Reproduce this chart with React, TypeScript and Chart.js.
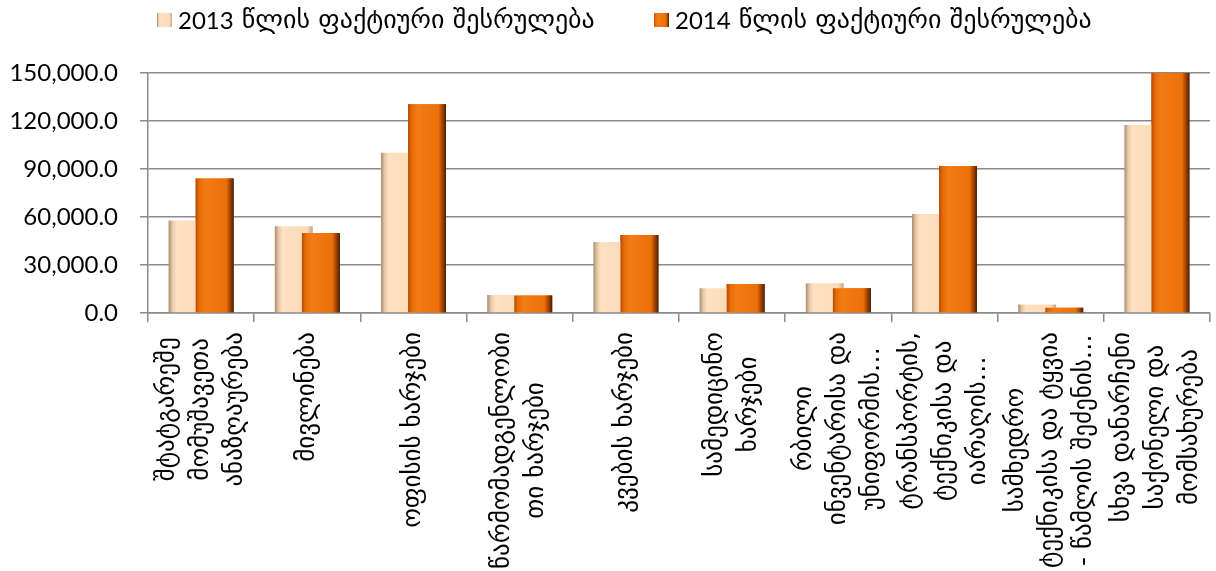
import React, { useEffect, useRef } from "react";
import { Chart, registerables } from "chart.js";

Chart.register(...registerables);

const CATEGORY_LABELS: string[][] = [
  ["შტატგარეშე", "მომუშავეთა", "ანაზღაურება"],
  ["მივლინება"],
  ["ოფისის ხარჯები"],
  ["წარმომადგენლობი", "თი ხარჯები"],
  ["კვების ხარჯები"],
  ["სამედიცინო", "ხარჯები"],
  ["რბილი", "ინვენტარისა და", "უნიფორმის…"],
  ["ტრანსპორტის,", "ტექნიკისა და", "იარაღის…"],
  ["სამხედრო", "ტექნიკისა და ტყვია", "- წამლის შეძენის…"],
  ["სხვა დანარჩენი", "საქონელი და", "მომსახურება"],
];

const SERIES_YEARS = ["2013", "2014"];
const SERIES_SUFFIX = "წლის ფაქტიური შესრულება";

const VALUES_2013: number[] = [57800, 54200, 100200, 11200, 44300, 15500, 18600, 61800, 5300, 117500];
const VALUES_2014: number[] = [84000, 50000, 130500, 11000, 48800, 18200, 15500, 91900, 3300, 150000];

const Y_MIN = 0;
const Y_MAX = 150000;
const Y_STEP = 30000;

const CAT_PCT = 0.51;
const BAR_PCT = 1.4;

const LATIN_FONT = "Lato, 'DejaVu Sans', sans-serif";
const GEO_FONT = "'DejaVu Sans', sans-serif";

const LIGHT_STOPS: [number, string][] = [
  [0, "#a88c70"],
  [0.1, "#e8c8a8"],
  [0.2, "#fde1c3"],
  [0.85, "#fcdab6"],
  [1, "#c4a484"],
];
const ORANGE_STOPS: [number, string][] = [
  [0, "#b44c00"],
  [0.1, "#e86c08"],
  [0.25, "#f47c14"],
  [0.8, "#ec700a"],
  [0.9, "#a84400"],
  [1, "#4a2000"],
];

function makeGradientColor(stops: [number, string][]) {
  return (ctx: any) => {
    const chart = ctx.chart;
    const xs = chart.scales && chart.scales.x;
    if (!xs || ctx.type !== "data" || xs.right === undefined) return stops[2][1];
    const n = CATEGORY_LABELS.length;
    const pixel = xs.getPixelForValue(ctx.dataIndex);
    const catW = (xs.right - xs.left) / n;
    const range = catW * CAT_PCT;
    const size = range / 2;
    const center = pixel - range / 2 + size * ctx.datasetIndex + size / 2;
    const w = size * BAR_PCT;
    const g = chart.ctx.createLinearGradient(center - w / 2, 0, center + w / 2, 0);
    stops.forEach(([o, c]) => g.addColorStop(o, c));
    return g;
  };
}

const customPlugin = {
  id: "customDraw",
  afterDatasetsDraw(chart: any) {
    // draw 2014 bars on top of 2013 bars where they overlap
    const meta = chart.getDatasetMeta(1);
    const ctx = chart.ctx;
    ctx.save();
    meta.data.forEach((el: any) => el.draw(ctx));
    ctx.restore();
  },
  afterDraw(chart: any) {
    const ctx = chart.ctx;
    const xs = chart.scales.x;
    // x labels
    ctx.save();
    ctx.fillStyle = "#000";
    ctx.font = `25px ${GEO_FONT}`;
    ctx.textBaseline = "middle";
    ctx.textAlign = "center";
    const lineH = 34;
    const top = xs.top + 19;
    CATEGORY_LABELS.forEach((lines, i) => {
      const cx = xs.getPixelForValue(i);
      const maxW = Math.max(...lines.map((l) => ctx.measureText(l).width));
      const cy = top + maxW / 2;
      lines.forEach((line, j) => {
        const lx = cx + (j - (lines.length - 1) / 2) * lineH;
        ctx.save();
        ctx.translate(lx, cy);
        ctx.rotate(-Math.PI / 2);
        ctx.fillText(line, 0, 0);
        ctx.restore();
      });
    });
    ctx.restore();

    // legend
    ctx.save();
    ctx.textBaseline = "middle";
    ctx.textAlign = "left";
    const items: [string, [number, string][], number][] = [
      [SERIES_YEARS[0], LIGHT_STOPS, 157],
      [SERIES_YEARS[1], ORANGE_STOPS, 654],
    ];
    items.forEach(([year, stops, x]) => {
      const g = ctx.createLinearGradient(x, 0, x + 15, 0);
      stops.forEach(([o, c]) => g.addColorStop(o, c));
      ctx.fillStyle = g;
      ctx.fillRect(x, 13, 15, 14);
      ctx.fillStyle = "#000";
      ctx.font = `24px ${LATIN_FONT}`;
      const yearText = year + " ";
      ctx.fillText(yearText, x + 21, 21);
      const w = ctx.measureText(yearText).width;
      ctx.font = `26px ${GEO_FONT}`;
      ctx.fillText(SERIES_SUFFIX, x + 21 + w + 2, 21);
    });
    ctx.restore();
  },
};

export default function App() {
  const canvasRef = useRef<HTMLCanvasElement | null>(null);

  useEffect(() => {
    document.body.style.margin = "0";
    const canvas = canvasRef.current;
    if (!canvas) return;
    const chart = new Chart(canvas, {
      type: "bar",
      data: {
        labels: CATEGORY_LABELS.map((l) => l.join(" ")),
        datasets: [
          {
            label: `${SERIES_YEARS[0]} ${SERIES_SUFFIX}`,
            data: VALUES_2013,
            backgroundColor: makeGradientColor(LIGHT_STOPS),
            borderWidth: 0,
            categoryPercentage: CAT_PCT,
            barPercentage: BAR_PCT,
          },
          {
            label: `${SERIES_YEARS[1]} ${SERIES_SUFFIX}`,
            data: VALUES_2014,
            backgroundColor: makeGradientColor(ORANGE_STOPS),
            borderWidth: 0,
            categoryPercentage: CAT_PCT,
            barPercentage: BAR_PCT,
          },
        ],
      },
      options: {
        animation: false,
        responsive: false,
        maintainAspectRatio: false,
        layout: { padding: { top: 73, right: 6, left: 0, bottom: 0 } },
        plugins: {
          legend: { display: false },
          tooltip: { enabled: false },
        },
        scales: {
          x: {
            offset: true,
            grid: {
              display: true,
              offset: true,
              drawOnChartArea: false,
              drawTicks: true,
              tickLength: 9,
              color: "#8a8a8a",
              lineWidth: 1.5,
            },
            border: { display: true, color: "#8a8a8a", width: 1.5 },
            ticks: { display: false },
            afterFit: (scale: any) => {
              scale.height = 571 - 313;
            },
          },
          y: {
            min: Y_MIN,
            max: Y_MAX,
            grid: {
              color: "#8a8a8a",
              lineWidth: 1.5,
              tickLength: 8,
            },
            border: { display: true, color: "#8a8a8a", width: 1.5 },
            ticks: {
              stepSize: Y_STEP,
              padding: 22,
              color: "#000",
              font: { family: LATIN_FONT, size: 24 },
              callback: (v: any) =>
                Number(v).toLocaleString("en-US", { minimumFractionDigits: 1, maximumFractionDigits: 1 }),
            },
            afterFit: (scale: any) => {
              scale.width = 148;
            },
          },
        },
      },
      plugins: [customPlugin],
    });
    return () => chart.destroy();
  }, []);

  return (
    <div style={{ width: 1216, height: 571 }}>
      <canvas ref={canvasRef} width={1216} height={571} style={{ display: "block" }} />
    </div>
  );
}
